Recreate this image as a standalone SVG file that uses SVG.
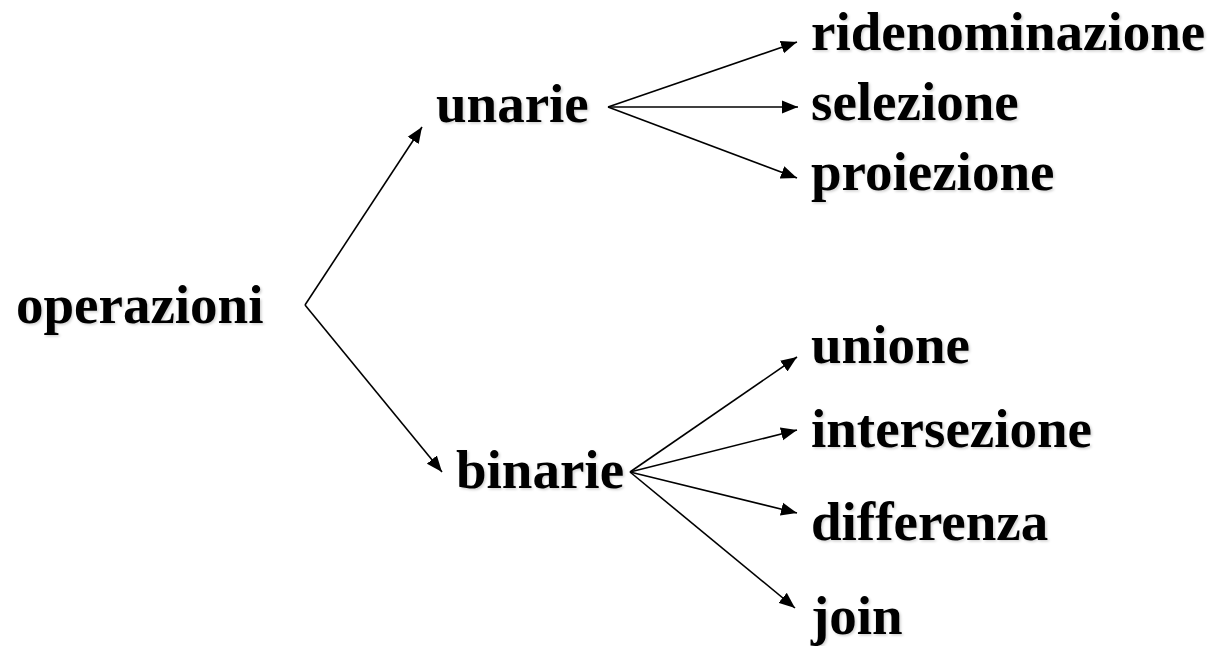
<svg xmlns="http://www.w3.org/2000/svg" width="1214" height="646" viewBox="0 0 1214 646">
<style>
.t{font-family:"Liberation Serif","Times New Roman",serif;font-weight:bold;font-size:55px;fill:#000;filter:url(#sh)}
.c{stroke:#000;stroke-width:1.6;fill:none;marker-end:url(#ah)}
</style>
<defs>
<marker id="ah" markerUnits="userSpaceOnUse" markerWidth="18" markerHeight="14" refX="16" refY="7" orient="auto">
<path d="M0,0.5 L16,7 L0,13.5 Z" fill="#000"/>
</marker>
<filter id="sh" x="-5%" y="-20%" width="110%" height="140%">
<feDropShadow dx="1.5" dy="1.5" stdDeviation="0.8" flood-color="#000" flood-opacity="0.18"/>
</filter>
</defs>
<rect width="1214" height="646" fill="#fff"/>
<g id="connectors">
<line class="c" x1="305" y1="305" x2="422" y2="127"/>
<line class="c" x1="305" y1="305" x2="442" y2="472"/>
<line class="c" x1="608" y1="107" x2="797" y2="42"/>
<line class="c" x1="608" y1="107" x2="798" y2="107"/>
<line class="c" x1="608" y1="107" x2="797" y2="178"/>
<line class="c" x1="630" y1="472" x2="797" y2="357"/>
<line class="c" x1="630" y1="472" x2="797" y2="430"/>
<line class="c" x1="630" y1="472" x2="797" y2="513"/>
<line class="c" x1="630" y1="472" x2="795" y2="608"/>
</g>
<g id="operazioni"><text class="t" x="16" y="323">operazioni</text></g>
<g id="unarie"><text class="t" x="436" y="122">unarie</text></g>
<g id="binarie"><text class="t" x="456" y="488">binarie</text></g>
<g id="ridenominazione"><text class="t" x="811" y="50">ridenominazione</text></g>
<g id="selezione"><text class="t" x="811" y="120">selezione</text></g>
<g id="proiezione"><text class="t" x="811" y="190">proiezione</text></g>
<g id="unione"><text class="t" x="811" y="363">unione</text></g>
<g id="intersezione"><text class="t" x="811" y="447">intersezione</text></g>
<g id="differenza"><text class="t" x="811" y="540">differenza</text></g>
<g id="join"><text class="t" x="811" y="634">join</text></g>
</svg>
